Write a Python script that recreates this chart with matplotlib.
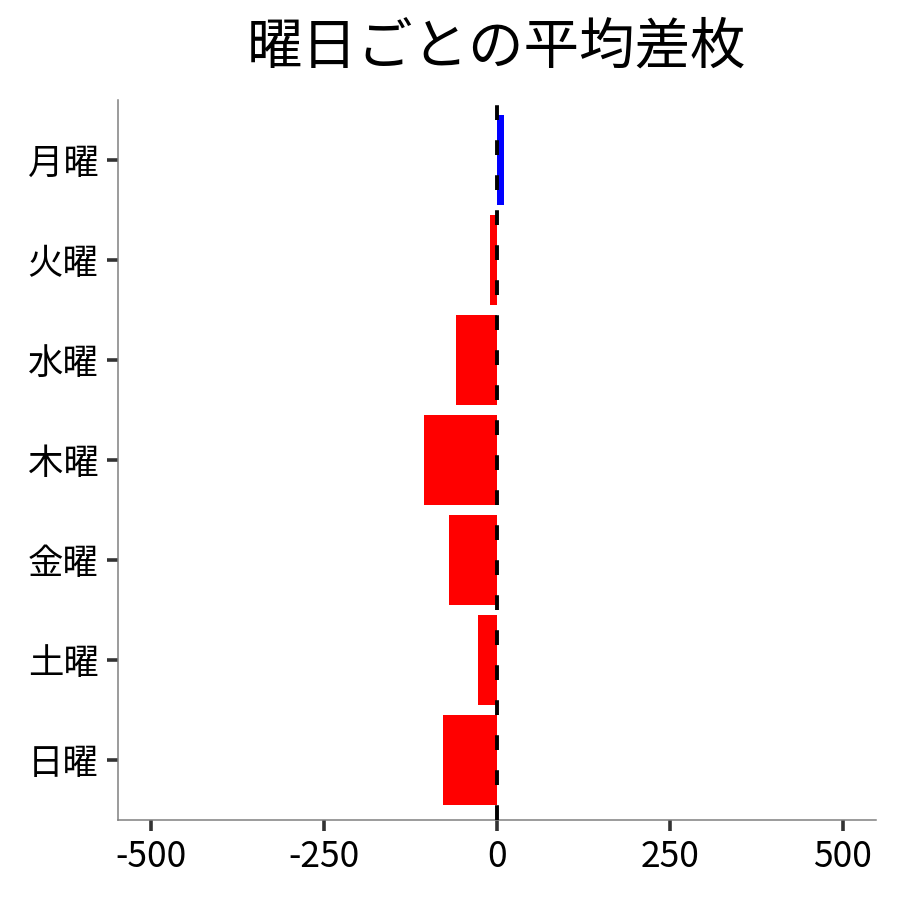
import matplotlib
matplotlib.use("Agg")
import matplotlib.pyplot as plt

plt.rcParams["font.family"] = ["Noto Sans CJK JP", "DejaVu Sans"]

# ---------------------------------------------------------------------------
# Data
# ---------------------------------------------------------------------------
DAYS = ["月曜", "火曜", "水曜", "木曜", "金曜", "土曜", "日曜"]
AVG_DIFF = [10, -10, -59, -105, -69, -27, -78]
X_TICKS = [-500, -250, 0, 250, 500]
TITLE = "曜日ごとの平均差枚"

POS_COLOR = "#0000ff"
NEG_COLOR = "#ff0000"


def main() -> None:
    fig = plt.figure(figsize=(9, 9), dpi=100)
    ax = fig.add_axes([0.131, 0.089, 0.842, 0.8])

    ypos = list(range(len(DAYS)))
    colors = [POS_COLOR if v >= 0 else NEG_COLOR for v in AVG_DIFF]
    ax.barh(ypos, AVG_DIFF, height=0.9, color=colors, zorder=2)

    # zero reference line
    ax.axvline(0, color="black", linewidth=2.8, dashes=(3.8, 5.2), zorder=3)

    ax.set_xlim(-548, 548)
    ax.set_ylim(len(DAYS) - 0.4, -0.6)
    ax.set_yticks(ypos)
    ax.set_yticklabels(DAYS)
    ax.set_xticks(X_TICKS)
    ax.set_xticklabels([str(t) for t in X_TICKS])

    for side in ("top", "right"):
        ax.spines[side].set_visible(False)
    for side in ("left", "bottom"):
        ax.spines[side].set_color("#808080")
        ax.spines[side].set_linewidth(1.1)

    ax.tick_params(axis="both", colors="#333333", width=2.6, length=8,
                   labelsize=25.5, labelcolor="black", pad=6)

    ax.set_title(TITLE, fontsize=40, pad=26)

    fig.savefig("out.png", dpi=100)


if __name__ == "__main__":
    main()
